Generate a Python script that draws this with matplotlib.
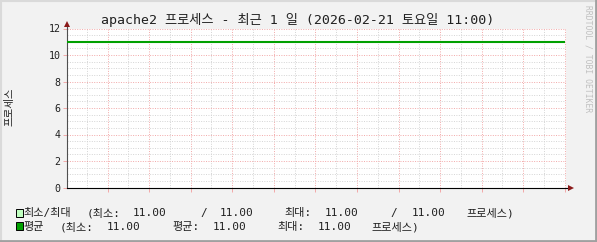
import matplotlib
matplotlib.use("Agg")
import matplotlib.pyplot as plt
import matplotlib.dates as mdates
from matplotlib.patches import Rectangle
from matplotlib.lines import Line2D
from datetime import datetime, timedelta

# ---- data ----
start_time = "2026-02-20 11:02"
end_time = "2026-02-21 11:02"
hours = list(range(0, 25))
processes = [11.0, 11.0, 11.0, 11.0, 11.0, 11.0, 11.0, 11.0, 11.0, 11.0, 11.0, 11.0, 11.0,
             11.0, 11.0, 11.0, 11.0, 11.0, 11.0, 11.0, 11.0, 11.0, 11.0, 11.0, 11.0]
y_ticks = [0, 2, 4, 6, 8, 10, 12]
title = "apache2 프로세스 - 최근 1 일 (2026-02-21 토요일 11:00)"
y_label = "프로세스"
legend_row1 = ["최소/최대", "(최소:", "11.00", "/", "11.00", "최대:", "11.00", "/", "11.00", "프로세스)"]
legend_row2 = ["평균", "(최소:", "11.00", "평균:", "11.00", "최대:", "11.00", "프로세스)"]
watermark = "RRDTOOL / TOBI OETIKER"

FAM = ["DejaVu Sans Mono", "Noto Sans CJK KR"]

W, H = 597, 242
fig = plt.figure(figsize=(W / 100, H / 100), dpi=100)
fig.patch.set_facecolor("#f2f2f2")

def fx(px):
    return px / W

def fy(py):
    return 1 - py / H

left, right, top, bottom = 66.7, 565.5, 28.5, 187.5
ax = fig.add_axes([fx(left), fy(bottom), fx(right) - fx(left), fy(top) - fy(bottom)])
ax.set_facecolor("white")

t0 = datetime.strptime(start_time, "%Y-%m-%d %H:%M")
t1 = datetime.strptime(end_time, "%Y-%m-%d %H:%M")
times = [t0 + timedelta(hours=h) for h in hours]

ax.plot(times, processes, color="#00a000", lw=1.5, solid_capstyle="butt", zorder=5)

ax.set_xlim(t0, t1)
ax.set_ylim(0, 12)

ax.set_yticks(y_ticks)
ax.yaxis.set_minor_locator(matplotlib.ticker.MultipleLocator(0.5))
ax.xaxis.set_major_locator(mdates.HourLocator(interval=2))
ax.xaxis.set_minor_locator(mdates.HourLocator(interval=1))

def xfmt(x, pos=None):
    d = mdates.num2date(x)
    if d.hour % 4 == 0:
        return d.strftime("%a %H:%M")
    return ""

ax.xaxis.set_major_formatter(matplotlib.ticker.FuncFormatter(xfmt))

ax.grid(which="minor", color="#d4d4d4", linestyle=(0, (1, 1.5)), lw=0.7)
ax.grid(which="major", color="#f2a8a8", linestyle=(0, (1, 1.5)), lw=0.7)
ax.set_axisbelow(True)

ax.tick_params(axis="both", which="major", length=3, width=0.7, color="#f2a8a8",
               labelsize=7.2, pad=1.5, labelcolor="#202020")
ax.tick_params(axis="both", which="minor", length=0)
ax.tick_params(axis="x", which="major", pad=1)
for lab in ax.get_xticklabels() + ax.get_yticklabels():
    lab.set_family(FAM)

for s in ["top", "right"]:
    ax.spines[s].set_visible(False)
ax.spines["left"].set_color("#505050")
ax.spines["left"].set_linewidth(0.8)
ax.spines["bottom"].set_color("#000000")
ax.spines["bottom"].set_linewidth(0.8)

# axis extensions + arrows
arrow_c = "#8b1a1a"
ax.add_line(Line2D([0, 0], [1, 1.03], transform=ax.transAxes, color="#505050", lw=0.8, clip_on=False))
ax.add_line(Line2D([1, 1.008], [0, 0], transform=ax.transAxes, color="#000000", lw=0.8, clip_on=False))
ax.plot([0], [1.03], marker="^", ms=4.5, color=arrow_c, transform=ax.transAxes, clip_on=False, mew=0)
ax.plot([1.011], [0], marker=">", ms=4.5, color=arrow_c, transform=ax.transAxes, clip_on=False, mew=0)

# title
fig.text(fx(298), fy(20), title, ha="center", va="center", fontsize=9.5, family=FAM, color="#202020")
# y label
fig.text(fx(10), fy(107), y_label, ha="center", va="center", rotation=90, fontsize=7.5,
         family=FAM, color="#202020")
# watermark
fig.text(fx(588), fy(5), watermark, ha="center", va="top", rotation=270, fontsize=5.8,
         family=FAM, color="#c0c0c0")

# legend
fig.patches.append(Rectangle((fx(16), fy(217)), fx(7.3), fy(209) - fy(217), transform=fig.transFigure,
                             facecolor="#c0ffc0", edgecolor="black", lw=0.7))
fig.patches.append(Rectangle((fx(16), fy(230)), fx(7.3), fy(222) - fy(230), transform=fig.transFigure,
                             facecolor="#00a000", edgecolor="black", lw=0.7))
row1_x = [23.5, 86.7, 133, 200, 220, 284, 325, 390, 411.7, 466.7]
row2_x = [23.5, 60, 106.7, 172, 212.7, 277, 318, 371.7]
for txt, x in zip(legend_row1, row1_x):
    fig.text(fx(x), fy(213), txt, ha="left", va="center", fontsize=8, family=FAM, color="#202020")
for txt, x in zip(legend_row2, row2_x):
    fig.text(fx(x), fy(227), txt, ha="left", va="center", fontsize=8, family=FAM, color="#202020")

# 3D border
fig.add_artist(Line2D([0, 1], [fy(1), fy(1)], transform=fig.transFigure, color="#dadada", lw=1.5))
fig.add_artist(Line2D([fx(1), fx(1)], [0, 1], transform=fig.transFigure, color="#dadada", lw=1.5))
fig.add_artist(Line2D([0, 1], [fy(241), fy(241)], transform=fig.transFigure, color="#a0a0a0", lw=2))
fig.add_artist(Line2D([fx(596), fx(596)], [0, 1], transform=fig.transFigure, color="#a0a0a0", lw=2))

fig.savefig("out.png", dpi=100, facecolor=fig.get_facecolor())
